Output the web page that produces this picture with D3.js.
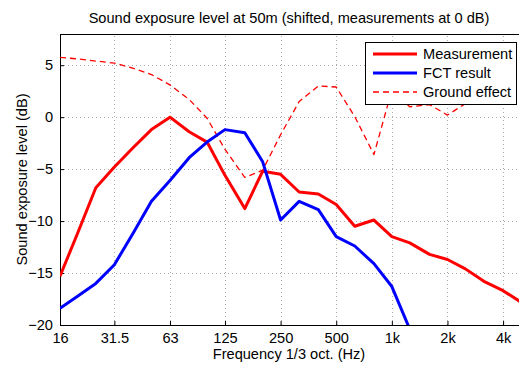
<!DOCTYPE html>
<html>
<head>
<meta charset="utf-8">
<script src="https://cdn.jsdelivr.net/npm/d3@7"></script>
<style>
  body { margin: 0; background: #fff; }
  svg { display: block; font-family: "Liberation Sans", Arial, sans-serif; }
</style>
</head>
<body>
<svg class="spectrum"></svg>
<script>
// 1/3 octave band centres and the three curves
const freqs = [16, 20, 25, 31.5, 40, 50, 63, 80, 100, 125, 160, 200, 250, 315, 400, 500, 630, 800, 1000, 1250, 1600, 2000, 2500, 3150, 4000, 5000]
const measurement = [-15.3, -11.1, -6.8, -4.8, -2.9, -1.2, 0, -1.4, -2.4, -5.6, -8.8, -5.2, -5.5, -7.2, -7.4, -8.4, -10.5, -9.9, -11.5, -12.1, -13.2, -13.7, -14.6, -15.8, -16.7, -17.8]
// FCT result drops off the bottom of the axes after 1 kHz
const fctFreqs = [16, 20, 25, 31.5, 40, 50, 63, 80, 100, 125, 160, 200, 250, 315, 400, 500, 630, 800, 1000, 1250]
const fctResult = [-18.4, -17.2, -16.0, -14.2, -11.1, -8.1, -6.1, -3.9, -2.4, -1.2, -1.5, -4.3, -9.9, -8.1, -8.9, -11.5, -12.4, -14.1, -16.3, -20.4]
const groundEffect = [5.75, 5.6, 5.4, 5.2, 4.7, 4.1, 3.1, 1.7, -0.1, -3.1, -5.8, -5.1, -1.7, 1.5, 3.0, 2.9, 0.05, -3.6, 2.6, 1.0, 1.2, 0.2, 1.3, 1.4, 1.5, 1.7]

const xTicks = [16, 31.5, 63, 125, 250, 500, 1000, 2000, 4000]
const xTickLabels = ["16", "31.5", "63", "125", "250", "500", "1k", "2k", "4k"]
const yTicks = [-20, -15, -10, -5, 0, 5]

const W = 519, H = 365
const fontSize = 14.6
const margin = { top: 34, right: -2, bottom: 40, left: 60 }
const x = d3.scaleLog().domain([16, 5000]).range([margin.left, W - margin.right])
const y = d3.scaleLinear().domain([-20, 8]).range([H - margin.bottom, margin.top])

const svg = d3.select("svg.spectrum").attr("width", W).attr("height", H)

svg.append("defs").append("clipPath").attr("id", "plotClip")
  .append("rect")
  .attr("x", x.range()[0]).attr("y", y.range()[1])
  .attr("width", x.range()[1] - x.range()[0])
  .attr("height", y.range()[0] - y.range()[1])

// dotted grid
const grid = svg.append("g").attr("stroke", "#aaa").attr("stroke-width", 1).attr("stroke-dasharray", "1,3")
grid.selectAll("line.vx").data(xTicks.slice(1)).join("line")
  .attr("x1", d => Math.round(x(d)) + 0.5).attr("x2", d => Math.round(x(d)) + 0.5)
  .attr("y1", y.range()[0]).attr("y2", y.range()[1])
grid.selectAll("line.hy").data(yTicks.slice(1)).join("line")
  .attr("y1", d => Math.round(y(d)) + 0.5).attr("y2", d => Math.round(y(d)) + 0.5)
  .attr("x1", x.range()[0]).attr("x2", x.range()[1])

// axes, ticks pointing inwards like matlab
const xAxis = svg.append("g")
  .attr("transform", `translate(0,${y.range()[0]})`)
  .call(d3.axisBottom(x).tickValues(xTicks).tickFormat((d, i) => xTickLabels[i]).tickSizeInner(-4).tickSizeOuter(0).tickPadding(8))
const yAxis = svg.append("g")
  .attr("transform", `translate(${x.range()[0]},0)`)
  .call(d3.axisLeft(y).tickValues(yTicks).tickSizeInner(-4).tickSizeOuter(0).tickPadding(7))
svg.selectAll(".tick text").attr("font-size", fontSize).attr("fill", "#000").attr("font-family", "Liberation Sans, Arial, sans-serif")
svg.selectAll(".domain").attr("stroke", "#000")

// top edge of the box
svg.append("line")
  .attr("x1", x.range()[0]).attr("x2", x.range()[1])
  .attr("y1", y.range()[1] + 0.5).attr("y2", y.range()[1] + 0.5)
  .attr("stroke", "#000")

const line = d3.line().x(d => x(d[0])).y(d => y(d[1]))
const plot = svg.append("g").attr("clip-path", "url(#plotClip)").attr("fill", "none").attr("stroke-linejoin", "round")

plot.append("path")
  .datum(d3.zip(freqs, groundEffect))
  .attr("stroke", "#f00").attr("stroke-width", 1.3).attr("stroke-dasharray", "6,4")
  .attr("d", line)
plot.append("path")
  .datum(d3.zip(freqs, measurement))
  .attr("stroke", "#f00").attr("stroke-width", 3)
  .attr("d", line)
plot.append("path")
  .datum(d3.zip(fctFreqs, fctResult))
  .attr("stroke", "#00f").attr("stroke-width", 3)
  .attr("d", line)

// legend
const legendItems = [
  { name: "Measurement", color: "#f00", width: 3, dash: null },
  { name: "FCT result", color: "#00f", width: 3, dash: null },
  { name: "Ground effect", color: "#f00", width: 1.3, dash: "6,4" }
]
const legend = svg.append("g").attr("transform", "translate(365,42)")
legend.append("rect")
  .attr("x", 0.5).attr("y", 0.5).attr("width", 151).attr("height", 62)
  .attr("fill", "#fff").attr("stroke", "#000")
const row = legend.selectAll("g.row").data(legendItems).join("g")
  .attr("transform", (d, i) => `translate(0,${12 + i * 19})`)
row.append("line")
  .attr("x1", 8).attr("x2", 52)
  .attr("stroke", d => d.color).attr("stroke-width", d => d.width)
  .attr("stroke-dasharray", d => d.dash)
row.append("text")
  .attr("x", 58).attr("dy", "0.35em").attr("font-size", fontSize)
  .text(d => d.name)

// titles
svg.append("text")
  .attr("x", 289).attr("y", 23).attr("text-anchor", "middle").attr("font-size", fontSize)
  .text("Sound exposure level at 50m (shifted, measurements at 0 dB)")
svg.append("text")
  .attr("x", 289).attr("y", 359).attr("text-anchor", "middle").attr("font-size", fontSize)
  .text("Frequency 1/3 oct. (Hz)")
svg.append("text")
  .attr("transform", `translate(27,${(y.range()[0] + y.range()[1]) / 2}) rotate(-90)`)
  .attr("text-anchor", "middle").attr("font-size", fontSize)
  .text("Sound exposure level (dB)")
</script>
</body>
</html>
